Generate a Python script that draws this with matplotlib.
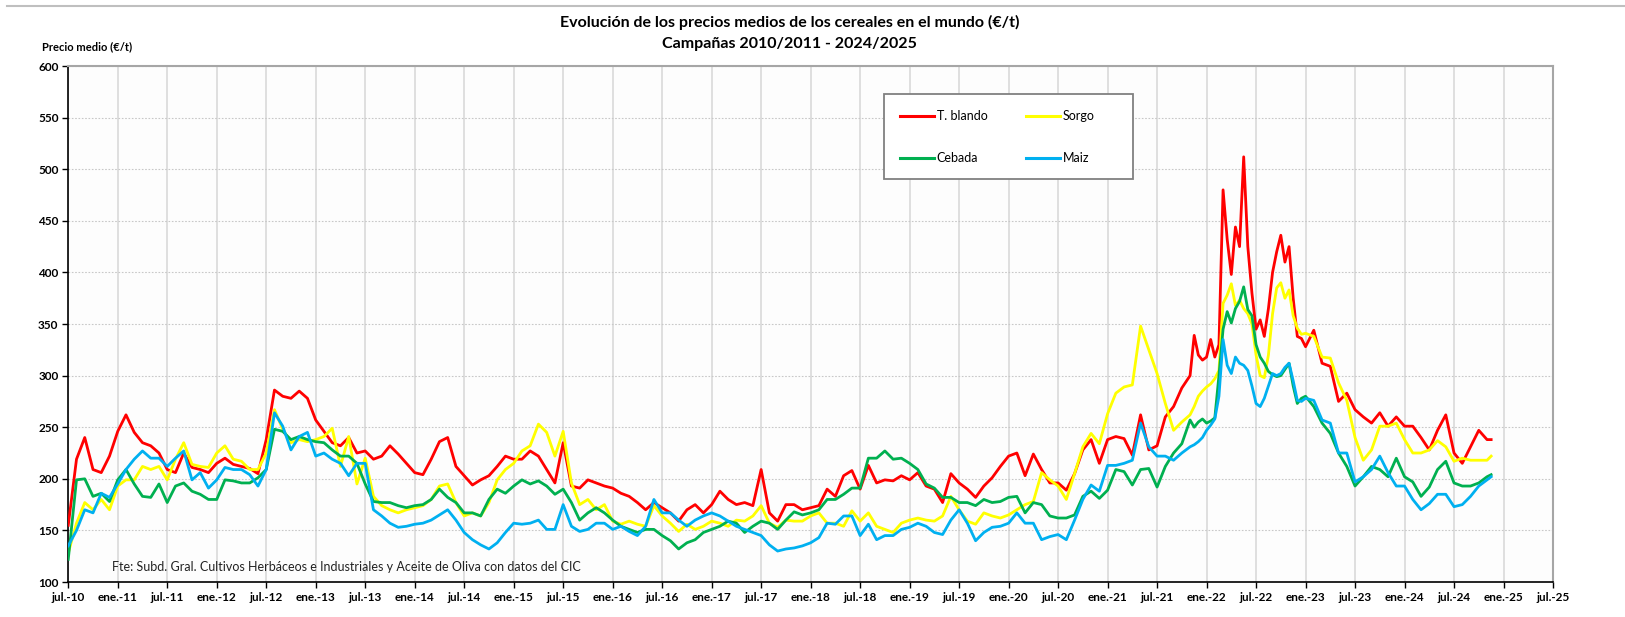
import numpy as np
import matplotlib
matplotlib.use("Agg")
import matplotlib.pyplot as plt
from matplotlib.lines import Line2D
from matplotlib.patches import Rectangle

plt.rcParams['font.family'] = ['Lato', 'DejaVu Sans']

# Eje temporal: meses desde jul.-2010 (quincenal durante 2022)
meses = np.concatenate([np.arange(0, 136), np.arange(136, 150.5, 0.5),
                        np.arange(151, 173), [172.5]])

# Precios medios (€/t)
t_blando = [
    155, 219, 240, 209, 206, 222, 246, 262, 245, 235,
    232, 225, 209, 206, 225, 211, 209, 206, 215, 220,
    214, 212, 210, 205, 238, 286, 280, 278, 285, 278,
    257, 246, 235, 232, 240, 225, 227, 219, 222, 232,
    224, 215, 206, 204, 219, 236, 240, 212, 203, 194,
    199, 203, 212, 222, 219, 219, 227, 222, 209, 196,
    235, 193, 191, 199, 196, 193, 191, 186, 183, 177,
    170, 177, 172, 167, 159, 170, 175, 167, 175, 188,
    180, 175, 177, 174, 209, 167, 159, 175, 175, 170,
    172, 174, 190, 183, 203, 208, 190, 213, 196, 199,
    198, 203, 199, 206, 193, 190, 177, 205, 196, 190,
    182, 193, 201, 212, 222, 225, 203, 224, 209, 196,
    196, 189, 205, 228, 238, 215, 238, 241, 239, 223,
    262, 228, 232, 260, 270, 288,
    300, 339, 320, 315, 318, 335, 318, 330, 480, 432,
    398, 444, 425, 512, 425, 380, 345, 354, 338, 365,
    400, 420, 436, 410, 425, 375, 338, 336, 328,
    344, 312, 309, 275, 283, 267, 260, 254, 264, 251,
    260, 251, 251, 240, 228, 247, 262, 225, 215, 231,
    247, 238, 238]

sorgo = [
    128, 157, 177, 170, 180, 170, 193, 199, 199, 212,
    209, 212, 199, 219, 235, 214, 212, 211, 225, 232,
    219, 217, 209, 209, 225, 267, 248, 235, 238, 236,
    238, 241, 249, 212, 241, 195, 220, 183, 174, 170,
    167, 170, 172, 174, 180, 193, 195, 177, 164, 167,
    164, 177, 199, 209, 215, 227, 232, 253, 245, 222,
    246, 196, 175, 180, 170, 175, 159, 156, 159, 156,
    154, 174, 164, 157, 149, 156, 151, 154, 159, 157,
    154, 160, 159, 164, 174, 157, 153, 160, 159, 159,
    164, 167, 157, 157, 154, 169, 159, 167, 154, 151,
    148, 157, 160, 162, 160, 159, 164, 183, 170, 159,
    156, 167, 164, 162, 165, 170, 175, 178, 206, 199,
    193, 180, 205, 231, 244, 234, 263, 283, 289, 291,
    348, 325, 302, 273, 247, 255,
    262, 270, 280, 285, 289, 292, 297, 305, 370, 378,
    389, 368, 373, 365, 360, 350, 320, 300, 298, 320,
    360, 385, 390, 375, 383, 358, 346, 340, 341,
    338, 318, 317, 293, 276, 240, 218, 228, 251, 251,
    254, 238, 225, 225, 228, 237, 231, 217, 220, 218,
    218, 218, 222]

cebada = [
    122, 199, 200, 183, 186, 178, 199, 209, 195, 183,
    182, 195, 177, 193, 196, 188, 185, 180, 180, 199,
    198, 196, 196, 201, 209, 248, 246, 238, 241, 238,
    236, 235, 228, 222, 222, 215, 195, 178, 177, 177,
    174, 172, 174, 175, 180, 190, 182, 177, 167, 167,
    164, 180, 190, 186, 193, 199, 195, 198, 193, 185,
    190, 177, 160, 167, 172, 167, 160, 154, 151, 148,
    151, 151, 145, 140, 132, 138, 141, 148, 151, 154,
    159, 157, 148, 154, 159, 157, 151, 160, 168, 165,
    167, 170, 180, 180, 185, 191, 191, 220, 220, 227,
    219, 220, 215, 209, 195, 191, 182, 182, 177, 177,
    174, 180, 177, 178, 182, 183, 167, 177, 175, 164,
    162, 162, 165, 183, 188, 181, 189, 209, 207, 194,
    209, 210, 192, 212, 225, 234,
    257, 250, 255, 258, 254, 256, 259, 300, 345, 362,
    351, 365, 372, 386, 364, 358, 330, 318, 312, 304,
    301, 299, 300, 306, 312, 290, 273, 278, 280,
    270, 254, 244, 225, 212, 193, 202, 212, 209, 202,
    220, 202, 197, 183, 192, 209, 217, 196, 193, 193,
    196, 202, 204]

maiz = [
    135, 150, 170, 167, 186, 182, 195, 209, 219, 227,
    220, 220, 212, 220, 227, 199, 206, 191, 199, 211,
    209, 209, 204, 193, 209, 264, 251, 228, 241, 245,
    222, 225, 219, 215, 203, 215, 215, 170, 164, 157,
    153, 154, 156, 157, 160, 165, 170, 160, 148, 141,
    136, 132, 138, 148, 157, 156, 157, 160, 151, 151,
    175, 154, 149, 151, 157, 157, 151, 154, 149, 145,
    154, 180, 167, 167, 160, 154, 160, 164, 167, 164,
    159, 154, 151, 148, 145, 136, 130, 132, 133, 135,
    138, 143, 157, 156, 164, 164, 145, 156, 141, 145,
    145, 151, 153, 157, 154, 148, 146, 160, 170, 157,
    140, 148, 153, 154, 157, 167, 157, 157, 141, 144,
    146, 141, 160, 180, 194, 188, 213, 213, 215, 218,
    254, 231, 222, 222, 218, 225,
    231, 233, 236, 240, 247, 252, 258, 280, 335, 310,
    302, 318, 312, 310, 305, 290, 273, 270, 278, 290,
    302, 300, 302, 308, 312, 295, 276, 275, 278,
    276, 257, 254, 225, 225, 197, 202, 209, 222, 206,
    193, 193, 180, 170, 176, 185, 185, 173, 175, 183,
    193, 199, 202]

etiquetas_x = ['jul.-10', 'ene.-11', 'jul.-11', 'ene.-12', 'jul.-12', 'ene.-13',
               'jul.-13', 'ene.-14', 'jul.-14', 'ene.-15', 'jul.-15', 'ene.-16',
               'jul.-16', 'ene.-17', 'jul.-17', 'ene.-18', 'jul.-18', 'ene.-19',
               'jul.-19', 'ene.-20', 'jul.-20', 'ene.-21', 'jul.-21', 'ene.-22',
               'jul.-22', 'ene.-23', 'jul.-23', 'ene.-24', 'jul.-24', 'ene.-25',
               'jul.-25']

series = [('T. blando', t_blando, '#FF0000'),
          ('Sorgo', sorgo, '#FFFF00'),
          ('Cebada', cebada, '#00B050'),
          ('Maiz', maiz, '#00B0F0')]

fig = plt.figure(figsize=(16.25, 6.17), dpi=100)
ax = fig.add_axes([0.042, 0.0567, 0.9137, 0.8363])
ax.set_facecolor('#fdfdfd')

for nombre, valores, color in series:
    ax.plot(meses, valores, color=color, lw=2.0, label=nombre, zorder=3)

ax.set_xlim(0, 180)
ax.set_ylim(100, 600)
ax.set_xticks(np.arange(0, 181, 6))
ax.set_xticklabels(etiquetas_x, fontsize=8.5, fontweight='bold')
ax.set_yticks(np.arange(100, 601, 50))
ax.set_yticklabels([str(v) for v in range(100, 601, 50)], fontsize=8.5, fontweight='bold')
ax.tick_params(axis='both', length=4, width=1, colors='black', pad=3)

ax.grid(axis='x', color='#d9d9d9', lw=1.2, ls='-', zorder=0)
ax.grid(axis='y', color='#c8c8c8', lw=0.8, ls=(0, (1.5, 1.5)), zorder=0)

for lado in ['left', 'bottom']:
    ax.spines[lado].set_color('black')
    ax.spines[lado].set_linewidth(1.2)
for lado in ['top', 'right']:
    ax.spines[lado].set_color('#a6a6a6')
    ax.spines[lado].set_linewidth(1.5)

# Caja de la leyenda
ax.add_patch(Rectangle((0.5495, 0.781), 0.1675, 0.1647, transform=ax.transAxes,
                       facecolor='white', edgecolor='#808080', lw=1.3, zorder=4))

# Leyenda en dos filas
orden = [0, 2, 1, 3]
handles = [Line2D([], [], color=series[i][2], lw=2.2) for i in orden]
labels = [series[i][0] for i in orden]
leg = ax.legend(handles, labels, ncol=2, loc='upper left',
                bbox_to_anchor=(0.5495, 0.9457), borderaxespad=0, fontsize=9,
                frameon=False, handlelength=2.7, handletextpad=0.2,
                labelspacing=2.4, borderpad=1.3, columnspacing=3.1)
leg.set_zorder(5)

ax.text(0.0296, 0.029, 'Fte: Subd. Gral. Cultivos Herbáceos e Industriales y Aceite de Oliva con datos del CIC',
        transform=ax.transAxes, fontsize=9, va='center', ha='left', color='#222222')

fig.text(0.486, 0.964, 'Evolución de los precios medios de los cereales en el mundo (€/t)',
         ha='center', va='center', fontsize=11.5, fontweight='bold')
fig.text(0.486, 0.929, 'Campañas 2010/2011 - 2024/2025',
         ha='center', va='center', fontsize=11.5, fontweight='bold')
fig.text(0.026, 0.925, 'Precio medio (€/t)', ha='left', va='center',
         fontsize=8, fontweight='bold')

fig.add_artist(Line2D([0.004, 1.0], [0.991, 0.991], color='#bfbfbf', lw=1.5,
                      transform=fig.transFigure))

fig.savefig('out.png', dpi=100)
